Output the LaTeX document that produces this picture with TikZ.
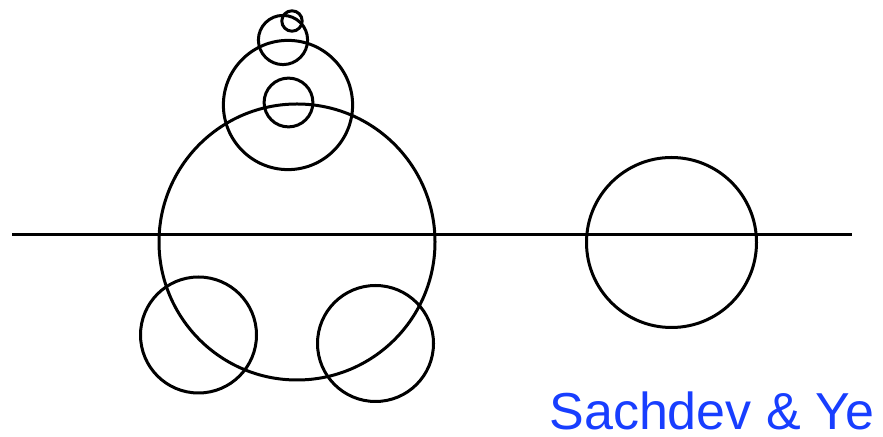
\documentclass[tikz,border=0pt]{standalone}
\usepackage{fontspec}
\setmainfont{Liberation Sans}
\usetikzlibrary{positioning}
\definecolor{namesblue}{RGB}{24,62,255}

\begin{document}
\begin{tikzpicture}[
    x=0.5pt, y=-0.5pt,
    ring/.style={
        draw=black,
        line width=1.5pt
    },
    axisline/.style={
        draw=black,
        line width=1.5pt
    }
]
    \useasboundingbox (0,0) rectangle (883,437);

    % Centres
    \coordinate (bigc) at (297,242);
    \coordinate (midc) at (288,105);
    \coordinate (innerc) at (288.5,102.5);
    \coordinate (topc) at (283,40);
    \coordinate (tinyc) at (292,21);
    \coordinate (leftc) at (198.5,335);
    \coordinate (rightc) at (375.5,343.5);
    \coordinate (farc) at (671.5,242.5);

    % Horizontal line
    \coordinate (lineL) at (12,235);
    \coordinate (lineR) at (852,235);
    \draw[axisline] (lineL) -- (lineR);

    % Circles
    \draw[ring] (bigc) circle[radius=69pt];
    \draw[ring] (midc) circle[radius=32.3pt];
    \draw[ring] (innerc) circle[radius=12.2pt];
    \draw[ring] (topc) circle[radius=12.3pt];
    \draw[ring] (tinyc) circle[radius=5.1pt];
    \draw[ring] (leftc) circle[radius=29pt];
    \draw[ring] (rightc) circle[radius=29pt];
    \draw[ring] (farc) circle[radius=42.5pt];

    % Label
    \node[anchor=base west, inner sep=0pt, text depth=0pt, text=namesblue,
        font=\fontsize{26}{30}\selectfont] (names) at (549,430) {Sachdev \& Ye};
\end{tikzpicture}
\end{document}
